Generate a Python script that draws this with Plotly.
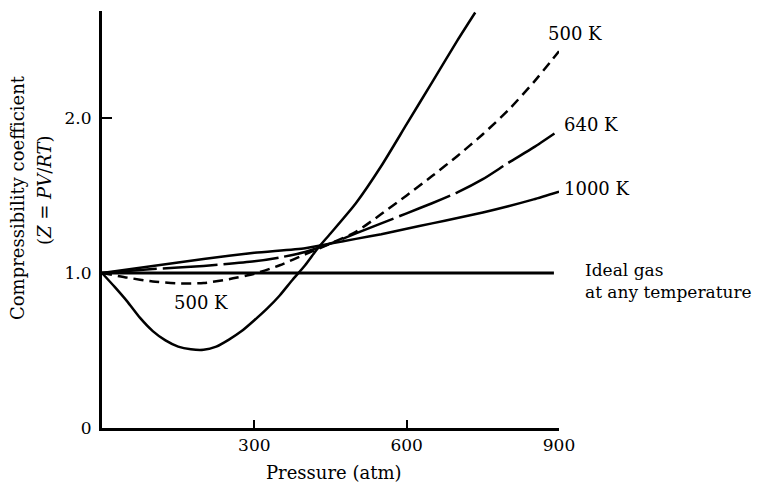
import plotly.graph_objects as go

# ---- data ----
# low-temperature curve (solid, deep minimum, unlabeled)
p_low = [0, 25, 50, 75, 100, 125, 150, 175, 200, 225, 250, 275, 300, 325, 350, 375, 400,
         425, 450, 500, 550, 600, 650, 700, 735]
z_low = [1.0, 0.91, 0.815, 0.71, 0.625, 0.565, 0.525, 0.508, 0.505, 0.525, 0.57, 0.625, 0.695,
         0.77, 0.855, 0.955, 1.05, 1.16, 1.255, 1.45, 1.69, 1.96, 2.23, 2.50, 2.68]

# 500 K (dashed)
p_500 = [0, 50, 100, 150, 200, 250, 300, 350, 400, 450, 500, 550, 600, 650, 700, 750, 800, 850, 900]
z_500 = [1.0, 0.97, 0.945, 0.933, 0.935, 0.96, 0.995, 1.05, 1.12, 1.19, 1.265, 1.38, 1.50,
         1.625, 1.755, 1.895, 2.05, 2.23, 2.43]

# 640 K (long dashes)
p_640 = [0, 100, 200, 300, 350, 400, 450, 500, 550, 600, 650, 700, 750, 800, 850, 900]
z_640 = [1.0, 1.025, 1.045, 1.075, 1.10, 1.135, 1.19, 1.255, 1.32, 1.385, 1.45, 1.52, 1.605,
         1.71, 1.81, 1.92]

# 1000 K (solid)
p_1000 = [0, 100, 200, 300, 400, 450, 500, 550, 600, 650, 700, 750, 800, 850, 900]
z_1000 = [1.0, 1.045, 1.09, 1.13, 1.16, 1.19, 1.22, 1.25, 1.285, 1.32, 1.355, 1.39, 1.43,
          1.475, 1.525]

# ideal gas
p_ideal = [0, 890]
z_ideal = [1.0, 1.0]

x_tickvals = [300, 600, 900]
x_ticktext = ["300", "600", "900"]
y_tickvals = [0, 1, 2]
y_ticktext = ["0", "1.0", "2.0"]

FONT = "DejaVu Serif"

fig = go.Figure()

def add(px, pz, width, dash):
    fig.add_trace(go.Scatter(
        x=px, y=pz, mode="lines",
        line=dict(color="black", width=width, dash=dash, shape="spline", smoothing=0.6),
        showlegend=False, hoverinfo="skip"))

add(p_ideal, z_ideal, 3, "solid")
add(p_1000, z_1000, 2.5, "solid")
add(p_640, z_640, 2.5, "55px,6px")
add(p_500, z_500, 2.5, "10px,6px")
add(p_low, z_low, 2.5, "solid")

# plot area in pixels: x 102..559, y 11..428
L, R, T, B = 102, 559, 11, 428
def px(xp):
    return (xp - L) / (R - L)
def py(yp):
    return (B - yp) / (B - T)

def label(xp, yp, text, xanchor="left", size=18, **kw):
    d = dict(xref="paper", yref="paper", x=px(xp), y=py(yp), text=text, showarrow=False,
             xanchor=xanchor, yanchor="middle",
             font=dict(family=FONT, size=size, color="black"))
    d.update(kw)
    return d

annotations = [
    label(546, 33, "500 K"),
    label(562, 125, "640 K"),
    label(562, 188, "1000 K"),
    label(201, 302, "500 K", xanchor="center"),
    label(583, 281, "Ideal gas<br>at any temperature", size=17, align="left"),
    label(17, 198, "Compressibility coefficient", xanchor="center", textangle=-90),
    label(44, 190, "(<i>Z</i> = <i>PV</i>/<i>RT</i>)", xanchor="center", textangle=-90),
    label(334, 472, "Pressure (atm)", xanchor="center"),
]

fig.update_layout(
    width=767, height=483,
    margin=dict(l=L, r=767 - R, t=T, b=483 - B, autoexpand=False),
    paper_bgcolor="white", plot_bgcolor="white",
    showlegend=False,
    annotations=annotations,
    xaxis=dict(range=[0, 900], tickvals=x_tickvals, ticktext=x_ticktext,
               ticks="inside", ticklen=8, tickwidth=2, tickcolor="black",
               showline=True, linecolor="black", linewidth=2.5,
               showgrid=False, zeroline=False,
               tickfont=dict(family=FONT, size=17, color="black")),
    yaxis=dict(range=[0, 2.69], tickvals=y_tickvals, ticktext=y_ticktext,
               ticks="inside", ticklen=10, tickwidth=2, tickcolor="black",
               showline=True, linecolor="black", linewidth=3,
               showgrid=False, zeroline=False, ticklabelstandoff=4,
               tickfont=dict(family=FONT, size=17, color="black")),
)

fig.write_html("out.html")
